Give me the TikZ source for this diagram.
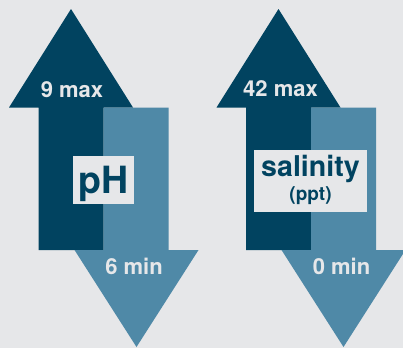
\documentclass[tikz,border=0pt]{standalone}
\usepackage{fontspec}
\setmainfont{TeX Gyre Heros}
\definecolor{bg}{RGB}{230,231,233}
\definecolor{dark}{RGB}{1,67,96}
\definecolor{light}{RGB}{79,137,167}
\begin{document}
\begin{tikzpicture}[x=1pt,y=-1pt,
  uparrow/.style={fill=dark},
  downarrow/.style={fill=light},
  lbl/.style={anchor=base,text=bg,font=\bfseries\fontsize{22}{24}\selectfont,inner sep=0pt},
  plate/.style={fill=bg,inner sep=0pt,draw=none},
  title/.style={anchor=base,text=dark,inner sep=0pt}]
\fill[bg] (0,0) rectangle (403,348);
\useasboundingbox (0,0) rectangle (403,348);
% left pair
\fill[uparrow] (71,9) -- (133,107.5) -- (103.5,107.5) -- (103.5,250) -- (38.5,250) -- (38.5,107.5) -- (9,107.5) -- cycle;
\fill[downarrow] (103.5,107.5) -- (168.5,107.5) -- (168.5,250) -- (198.5,250) -- (136.5,347) -- (74.5,250) -- (103.5,250) -- cycle;
% right pair
\fill[uparrow] (278.5,9) -- (340.5,107.5) -- (311,107.5) -- (311,250) -- (246,250) -- (246,107.5) -- (216.5,107.5) -- cycle;
\fill[downarrow] (311,107.5) -- (376,107.5) -- (376,250) -- (405.5,250) -- (343.5,347) -- (281.5,250) -- (311,250) -- cycle;
% plates
\node[plate,minimum width=61pt,minimum height=48.3pt] (phbox) at (103.7,180.2) {};
\node[plate,minimum width=112.7pt,minimum height=62.3pt] (salbox) at (310.3,181.2) {};
% labels
\node[lbl] (phmax) at (72,97) {9 max};
\node[lbl] (phmin) at (134,274) {6 min};
\node[lbl] (salmax) at (280.5,96) {42 max};
\node[lbl] (salmin) at (341.5,274) {0 min};
\node[title,font=\bfseries\fontsize{37.5}{40}\selectfont] (ph) at (103.5,193.3) {pH};
\node[title,font=\bfseries\fontsize{28.6}{30}\selectfont] (sal) at (310.5,176.7) {salinity};
\node[title,font=\bfseries\fontsize{19}{21}\selectfont] (ppt) at (310.5,200) {(ppt)};
\end{tikzpicture}
\end{document}
